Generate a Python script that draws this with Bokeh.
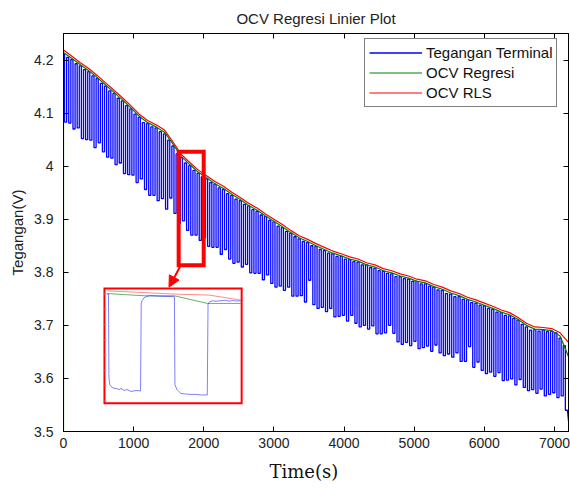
from bokeh.plotting import figure
from bokeh.models import Range1d, LinearAxis, FixedTicker, Legend, LegendItem, Arrow, NormalHead, Title
from bokeh.embed import file_html
from bokeh.resources import INLINE

# ---------------- data ----------------
PULSE_PERIOD = 60      # s
LOW_DURATION = 30      # s
FIRST_PULSE = 15       # s

# terminal voltage: rest level before each pulse and low level of each pulse
v_rest = [4.212, 4.205, 4.201, 4.193, 4.189, 4.182, 4.178, 4.170, 4.165, 4.156,
          4.151, 4.142, 4.137, 4.128, 4.123, 4.114, 4.108, 4.098, 4.092, 4.082,
          4.080, 4.074, 4.072, 4.065, 4.061, 4.049, 4.038, 4.023, 4.016, 4.006,
          4.001, 3.992, 3.987, 3.980, 3.976, 3.969, 3.966, 3.959, 3.956, 3.948,
          3.945, 3.938, 3.935, 3.928, 3.925, 3.918, 3.915, 3.908, 3.905, 3.898,
          3.895, 3.887, 3.884, 3.877, 3.874, 3.867, 3.863, 3.858, 3.856, 3.850,
          3.849, 3.843, 3.841, 3.836, 3.835, 3.830, 3.830, 3.825, 3.824, 3.820,
          3.819, 3.814, 3.814, 3.809, 3.808, 3.803, 3.802, 3.798, 3.797, 3.792,
          3.792, 3.788, 3.787, 3.783, 3.783, 3.778, 3.778, 3.774, 3.772, 3.767,
          3.766, 3.760, 3.759, 3.754, 3.754, 3.749, 3.748, 3.743, 3.742, 3.738,
          3.737, 3.732, 3.730, 3.725, 3.724, 3.719, 3.718, 3.713, 3.710, 3.702,
          3.697, 3.691, 3.692, 3.689, 3.691, 3.688, 3.689, 3.686, 3.676, 3.662]
v_low = [4.083, 4.081, 4.070, 4.072, 4.052, 4.050, 4.049, 4.035, 4.044, 4.027,
         4.017, 4.015, 4.003, 4.006, 3.986, 3.984, 3.983, 3.969, 3.976, 3.956,
         3.945, 3.945, 3.935, 3.939, 3.919, 3.940, 3.911, 3.892, 3.897, 3.879,
         3.870, 3.870, 3.860, 3.865, 3.849, 3.847, 3.847, 3.834, 3.843, 3.825,
         3.817, 3.819, 3.810, 3.815, 3.799, 3.798, 3.798, 3.786, 3.795, 3.779,
         3.772, 3.774, 3.766, 3.772, 3.755, 3.755, 3.756, 3.744, 3.785, 3.739,
         3.732, 3.734, 3.726, 3.732, 3.716, 3.717, 3.719, 3.708, 3.719, 3.704,
         3.697, 3.700, 3.693, 3.699, 3.684, 3.684, 3.686, 3.700, 3.685, 3.669,
         3.664, 3.668, 3.662, 3.670, 3.656, 3.658, 3.661, 3.651, 3.663, 3.648,
         3.643, 3.646, 3.640, 3.648, 3.632, 3.632, 3.660, 3.621, 3.631, 3.615,
         3.609, 3.612, 3.604, 3.611, 3.596, 3.597, 3.599, 3.588, 3.598, 3.583,
         3.577, 3.579, 3.572, 3.580, 3.567, 3.570, 3.573, 3.564, 3.567, 3.540]
END_T, END_V = 7200, 3.520

# OCV estimates sampled every 120 s (0 ... 7200 s)
ocv_time = list(range(0, 7201, 120))
ocv_rls = [4.219, 4.207, 4.195, 4.184, 4.171, 4.157, 4.143, 4.129, 4.114, 4.098,
           4.086, 4.078, 4.068, 4.046, 4.022, 4.007, 3.993, 3.982, 3.971, 3.962,
           3.951, 3.941, 3.930, 3.921, 3.910, 3.900, 3.890, 3.879, 3.869, 3.862,
           3.854, 3.847, 3.840, 3.835, 3.829, 3.825, 3.818, 3.814, 3.807, 3.803,
           3.797, 3.793, 3.787, 3.784, 3.777, 3.772, 3.765, 3.760, 3.753, 3.748,
           3.742, 3.736, 3.729, 3.724, 3.715, 3.704, 3.697, 3.696, 3.694, 3.686,
           3.668]
ocv_regresi_start = 3.40
ocv_regresi = [4.214, 4.203, 4.191, 4.180, 4.167, 4.153, 4.139, 4.125, 4.110, 4.094,
               4.082, 4.074, 4.064, 4.042, 4.018, 4.003, 3.989, 3.978, 3.967, 3.958,
               3.947, 3.937, 3.926, 3.917, 3.906, 3.896, 3.886, 3.875, 3.865, 3.858,
               3.850, 3.843, 3.836, 3.831, 3.825, 3.821, 3.814, 3.810, 3.803, 3.799,
               3.793, 3.789, 3.783, 3.780, 3.773, 3.768, 3.761, 3.756, 3.749, 3.744,
               3.738, 3.732, 3.725, 3.720, 3.711, 3.700, 3.693, 3.692, 3.690, 3.680,
               3.641]

# zoom window marked on the main plot
ZOOM_T0, ZOOM_T1, ZOOM_V0, ZOOM_V1 = 1642, 1999, 3.8135, 4.0273

# inset (zoomed detail)
inset_blue_t = [1653.9, 1655.8, 1656.5, 1657.6, 1659.7, 1662.6, 1667.0, 1671.4, 1674.3, 1678.6,
                1683.0, 1688.8, 1696.0, 1702.6, 1703.6, 1704.8, 1707.7, 1712.1, 1716.4, 1732.4,
                1749.8, 1752.0, 1752.7, 1755.6, 1758.5, 1761.4, 1767.2, 1775.9, 1783.2, 1790.4,
                1799.9, 1801.0, 1803.5, 1807.9, 1812.2, 1819.5, 1826.8, 1831.1, 1836.9, 1842.7,
                1848.5]
inset_blue_v = [3.9898, 3.9898, 3.8822, 3.8715, 3.8689, 3.8669, 3.8663, 3.8650, 3.8663, 3.8637,
                3.8650, 3.8624, 3.8637, 3.8631, 3.9766, 3.9811, 3.9850, 3.9869, 3.9876, 3.9869,
                3.9865, 3.9863, 3.8715, 3.8650, 3.8624, 3.8598, 3.8592, 3.8586, 3.8586, 3.8579,
                3.8579, 3.9769, 3.9798, 3.9811, 3.9805, 3.9811, 3.9818, 3.9805, 3.9814, 3.9807,
                3.9811]
inset_green_t = [1653.9, 1708.1, 1751.7, 1800.2, 1848.5]
inset_green_v = [3.9905, 3.9876, 3.9876, 3.9776, 3.9776]
inset_red_t = [1653.9, 1708.1, 1751.7, 1802.5, 1848.5]
inset_red_v = [3.9940, 3.9918, 3.9898, 3.9885, 3.9820]
inset_ticks = [3.99, 3.97, 3.95, 3.93, 3.91, 3.89, 3.87, 3.85]

x_ticks = [0, 1000, 2000, 3000, 4000, 5000, 6000, 7000]
x_tick_labels = ["0", "1000", "2000", "3000", "4000", "5000", "6000", "7000"]
y_ticks = [3.5, 3.6, 3.7, 3.8, 3.9, 4.0, 4.1, 4.2]
y_tick_labels = ["3.5", "3.6", "3.7", "3.8", "3.9", "4", "4.1", "4.2"]

# ---------------- layout constants ----------------
X_MIN, X_MAX, Y_MIN, Y_MAX = 0, 7200, 3.5, 4.25
INSET_X0, INSET_X1, INSET_Y0, INSET_Y1 = 584, 2540, 3.5532, 3.7693
WIN_T0, WIN_T1, WIN_V0, WIN_V1 = 1650, 1850, 3.847, 3.997
SANS = "Liberation Sans"

# build terminal-voltage trace from pulse data
bx, by = [0], [v_rest[0]]
n = len(v_rest)
for k in range(n):
    t0 = FIRST_PULSE + k * PULSE_PERIOD
    bx += [t0, t0, t0 + LOW_DURATION]
    by += [v_rest[k], v_low[k], v_low[k]]
    if k < n - 1:
        bx.append(t0 + LOW_DURATION)
        by.append(v_rest[k + 1])
bx.append(END_T)
by.append(END_V)

p = figure(width=570, height=489, x_range=Range1d(X_MIN, X_MAX), y_range=Range1d(Y_MIN, Y_MAX),
           output_backend="svg", toolbar_location=None,
           min_border_left=63, min_border_right=2, min_border_top=33, min_border_bottom=57)
p.background_fill_color = "white"
p.border_fill_color = "white"
p.outline_line_color = "black"
p.grid.visible = False

p.title.text = "OCV Regresi Linier Plot"
p.title.align = "center"
p.title.text_font = SANS
p.title.text_font_size = "15px"
p.title.text_font_style = "normal"
p.title.text_color = "#222222"
p.title.standoff = 14

for ax in (p.xaxis[0], p.yaxis[0]):
    ax.major_tick_in = 5
    ax.major_tick_out = 0
    ax.minor_tick_line_color = None
    ax.major_label_text_font = SANS
    ax.major_label_text_font_size = "14px"
    ax.major_label_text_color = "#222222"
    ax.axis_line_color = "black"
    ax.major_tick_line_color = "black"
p.xaxis[0].ticker = FixedTicker(ticks=x_ticks)
p.xaxis[0].major_label_overrides = dict(zip(x_ticks, x_tick_labels))
p.xaxis[0].major_label_standoff = 6
p.yaxis[0].ticker = FixedTicker(ticks=y_ticks)
p.yaxis[0].major_label_overrides = dict(zip(y_ticks, y_tick_labels))
p.yaxis[0].major_label_standoff = 10
p.yaxis[0].axis_label = "Tegangan(V)"
p.yaxis[0].axis_label_text_font = SANS
p.yaxis[0].axis_label_text_font_size = "15px"
p.yaxis[0].axis_label_text_font_style = "normal"
p.yaxis[0].axis_label_text_color = "#222222"
p.yaxis[0].axis_label_standoff = 5

top_ax = LinearAxis(ticker=FixedTicker(ticks=x_ticks), major_tick_in=5, major_tick_out=0,
                    minor_tick_line_color=None, major_label_text_font_size="1px",
                    major_label_text_color=None, major_label_standoff=0)
right_ax = LinearAxis(ticker=FixedTicker(ticks=y_ticks), major_tick_in=5, major_tick_out=0,
                      minor_tick_line_color=None, major_label_text_font_size="1px",
                      major_label_text_color=None, major_label_standoff=0)
p.add_layout(top_ax, "above")
p.add_layout(right_ax, "right")

p.add_layout(Title(text="Time(s)", align="left", offset=206, standoff=16, text_font="DejaVu Serif",
                   text_font_size="18px", text_font_style="normal", text_color="#111111"), "below")

r_blue = p.line(bx, by, line_color="#0000ff", line_width=1.3)
r_green = p.line([0] + ocv_time, [ocv_regresi_start] + ocv_regresi, line_color="#008000", line_width=1.2)
r_red = p.line(ocv_time, ocv_rls, line_color="#ff0000", line_width=1.2)

# zoom rectangle and arrow
p.quad(left=ZOOM_T0, right=ZOOM_T1, bottom=ZOOM_V0, top=ZOOM_V1, fill_alpha=0,
       line_color="#ff0000", line_width=4, line_join="miter")
p.add_layout(Arrow(end=NormalHead(size=11, fill_color="#ff0000", line_color="#ff0000"),
                   x_start=1671, y_start=3.813, x_end=1504, y_end=3.772,
                   line_color="#ff0000", line_width=2))

# inset
p.quad(left=INSET_X0, right=INSET_X1, bottom=INSET_Y0, top=INSET_Y1, fill_color="white",
       line_color="#ff0000", line_width=2, line_join="miter")
sx = (WIN_T1 - WIN_T0) / (INSET_X1 - INSET_X0)
sy = (WIN_V1 - WIN_V0) / (INSET_Y1 - INSET_Y0)
p.extra_x_ranges = {"ix": Range1d(WIN_T0 - (INSET_X0 - X_MIN) * sx, WIN_T1 + (X_MAX - INSET_X1) * sx)}
p.extra_y_ranges = {"iy": Range1d(WIN_V0 - (INSET_Y0 - Y_MIN) * sy, WIN_V1 + (Y_MAX - INSET_Y1) * sy)}
p.segment(x0=[WIN_T0] * len(inset_ticks), x1=[WIN_T0 + 3] * len(inset_ticks), y0=inset_ticks,
          y1=inset_ticks, line_color="#999999", line_width=1, x_range_name="ix", y_range_name="iy")
p.line(inset_red_t, inset_red_v, line_color="#ff0000", line_alpha=0.45, line_width=1,
       x_range_name="ix", y_range_name="iy")
p.line(inset_green_t, inset_green_v, line_color="#008000", line_alpha=0.6, line_width=1,
       x_range_name="ix", y_range_name="iy")
p.line(inset_blue_t, inset_blue_v, line_color="#0000ff", line_alpha=0.5, line_width=1,
       x_range_name="ix", y_range_name="iy")

legend = Legend(items=[LegendItem(label="Tegangan Terminal", renderers=[r_blue]),
                       LegendItem(label="OCV Regresi", renderers=[r_green]),
                       LegendItem(label="OCV RLS", renderers=[r_red])],
                location=(301, 324), label_text_font=SANS, label_text_font_size="15px",
                label_text_color="#111111", label_height=19, glyph_height=19, glyph_width=53,
                spacing=1, padding=4, margin=0, label_standoff=4,
                border_line_color="black", border_line_width=1, background_fill_alpha=1)
p.add_layout(legend)

open("out.html", "w").write(file_html(p, INLINE))
